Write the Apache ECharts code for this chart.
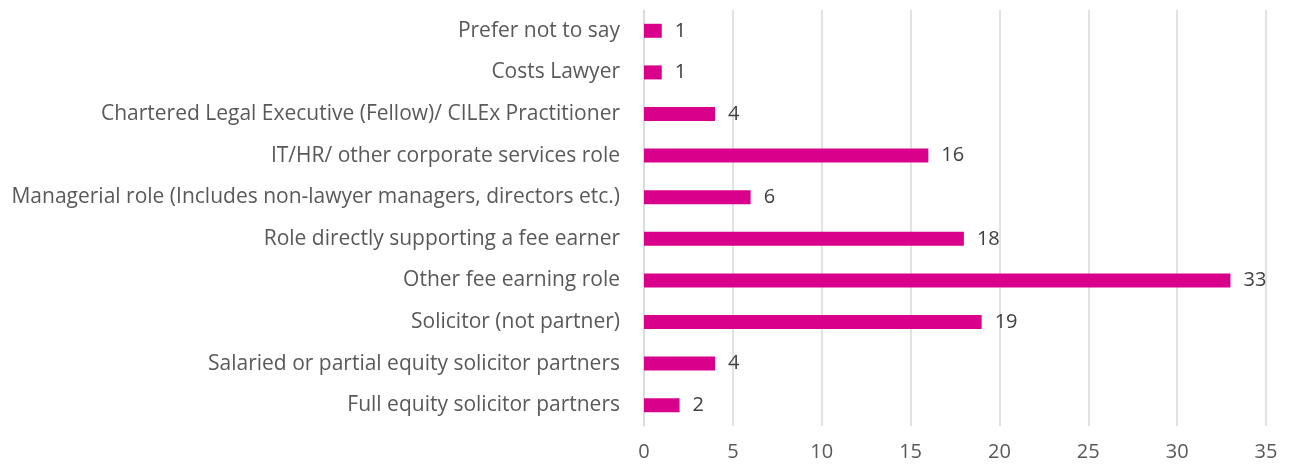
<!DOCTYPE html>
<html>
<head>
<meta charset="utf-8">
<script src="https://cdn.jsdelivr.net/npm/echarts@6/dist/echarts.min.js"></script>
<style>
html, body { margin: 0; padding: 0; background: #fff; }
#chart { width: 1290px; height: 470px; }
</style>
</head>
<body>
<div id="chart"></div>
<script>
// bottom to top, as the category axis draws them
const roles = [
    'Full equity solicitor partners',
    'Salaried or partial equity solicitor partners',
    'Solicitor (not partner)',
    'Other fee earning role',
    'Role directly supporting a fee earner',
    'Managerial role (Includes non-lawyer managers, directors etc.)',
    'IT/HR/ other corporate services role',
    'Chartered Legal Executive (Fellow)/ CILEx Practitioner',
    'Costs Lawyer',
    'Prefer not to say'
]
const counts = [2, 4, 19, 33, 18, 6, 16, 4, 1, 1]
const xTicks = [0, 5, 10, 15, 20, 25, 30, 35]

const font = '"Open Sans", sans-serif'
const myChart = echarts.init(document.getElementById('chart'))
const options = {
    animation: false,
    grid: {
        left: 644,
        right: 24,
        top: 10,
        bottom: 44,
        containLabel: false
    },
    xAxis: {
        type: 'value',
        min: xTicks[0],
        max: xTicks[xTicks.length - 1],
        interval: 5,
        axisLine: { show: false },
        axisTick: { show: false },
        splitLine: {
            lineStyle: { color: '#d9d9d9', width: 1.5 }
        },
        axisLabel: {
            color: '#595959',
            fontSize: 20,
            fontFamily: font,
            margin: 16
        }
    },
    yAxis: {
        type: 'category',
        data: roles,
        axisLine: {
            show: true,
            lineStyle: { color: '#d9d9d9', width: 1.5 }
        },
        axisTick: { show: false },
        axisLabel: {
            color: '#595959',
            fontSize: 21,
            fontFamily: font,
            margin: 24
        }
    },
    series: [
        {
            type: 'bar',
            data: counts,
            barWidth: 14,
            itemStyle: { color: '#d9008c' },
            label: {
                show: true,
                position: 'right',
                distance: 13,
                color: '#404040',
                fontSize: 20,
                fontFamily: font
            }
        }
    ]
}
myChart.setOption(options)
</script>
</body>
</html>
